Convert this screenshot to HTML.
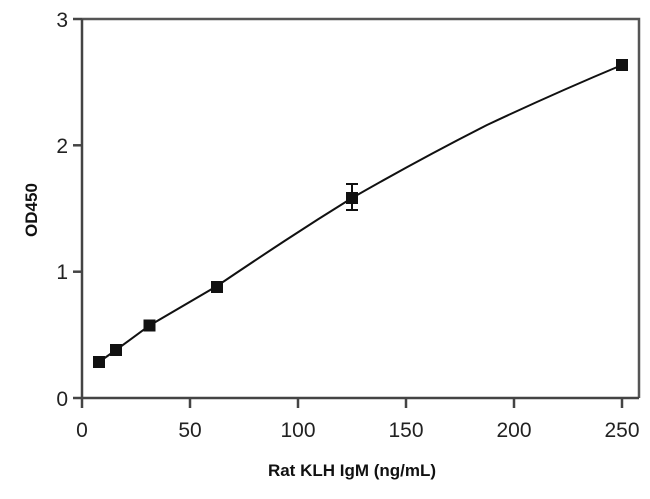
<!DOCTYPE html>
<html><head><style>body{margin:0;background:#fff}</style></head><body>
<svg width="650" height="494" xmlns="http://www.w3.org/2000/svg" font-family="Liberation Sans, sans-serif">
<rect x="0" y="0" width="650" height="494" fill="#fff"/>
<path d="M82 19 H639 V398" fill="none" stroke="#555" stroke-width="2.5"/>
<path d="M82 19 V398 H639" fill="none" stroke="#444" stroke-width="2.5"/>
<g stroke="#444" stroke-width="2.5">
<line x1="73" y1="19" x2="82" y2="19"/><line x1="73" y1="145.3" x2="82" y2="145.3"/><line x1="73" y1="271.7" x2="82" y2="271.7"/><line x1="73" y1="398" x2="82" y2="398"/>
<line x1="82" y1="398" x2="82" y2="408"/><line x1="190" y1="398" x2="190" y2="408"/><line x1="298" y1="398" x2="298" y2="408"/><line x1="406" y1="398" x2="406" y2="408"/><line x1="514" y1="398" x2="514" y2="408"/><line x1="622" y1="398" x2="622" y2="408"/>
</g>
<g font-size="21" fill="#222" text-anchor="end">
<text x="68" y="27">3</text><text x="68" y="153">2</text><text x="68" y="279">1</text><text x="68" y="406">0</text>
</g>
<g font-size="21" fill="#222" text-anchor="middle">
<text x="82" y="437">0</text><text x="190" y="437">50</text><text x="298" y="437">100</text><text x="406" y="437">150</text><text x="514" y="437">200</text><text x="622" y="437">250</text>
</g>
<text x="352" y="476" font-size="17" font-weight="bold" text-anchor="middle" fill="#111">Rat KLH IgM (ng/mL)</text>
<text transform="translate(37,210) rotate(-90)" font-size="17" font-weight="bold" text-anchor="middle" fill="#111">OD450</text>
<path d="M99 362 L116 350 L149.5 325.5 Q183 306 217 286 Q251 263 284.5 241 Q318 219 352 198 Q420 159 487 125 Q555 93 622 65" fill="none" stroke="#111" stroke-width="2"/>
<g stroke="#111" stroke-width="2"><line x1="352" y1="184" x2="352" y2="210"/><line x1="346" y1="184" x2="358" y2="184"/><line x1="346" y1="210" x2="358" y2="210"/></g>
<g fill="#111">
<rect x="93" y="356" width="12" height="12"/><rect x="110" y="344" width="12" height="12"/><rect x="143.5" y="319.5" width="12" height="12"/><rect x="211" y="281" width="12" height="12"/><rect x="346" y="192" width="12" height="12"/><rect x="616" y="59" width="12" height="12"/>
</g>
</svg>
</body></html>
